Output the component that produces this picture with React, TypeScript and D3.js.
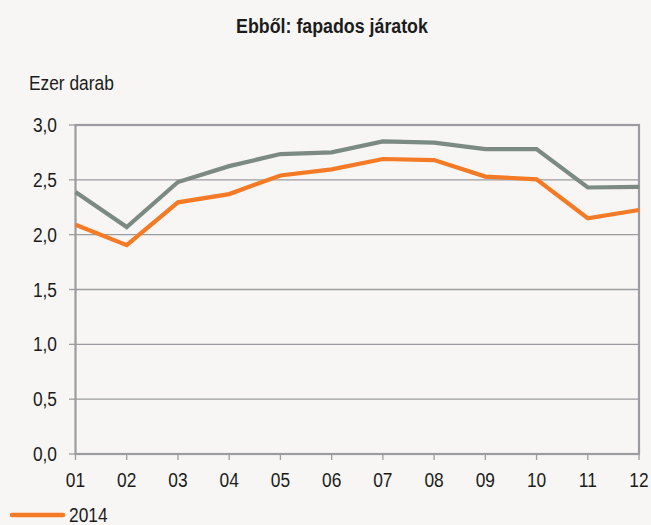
import React from 'react';
import * as d3 from 'd3';

const months = ['01', '02', '03', '04', '05', '06', '07', '08', '09', '10', '11', '12'];
const values2014 = [2.09, 1.905, 2.295, 2.37, 2.54, 2.595, 2.69, 2.68, 2.53, 2.505, 2.15, 2.225];
const values2015 = [2.39, 2.07, 2.48, 2.625, 2.735, 2.75, 2.85, 2.84, 2.78, 2.78, 2.43, 2.435];
const yTicks = [0, 0.5, 1, 1.5, 2, 2.5, 3];

const W = 651;
const H = 525;
const font = '"Liberation Sans", Arial, sans-serif';
const ink = '#1c1c1c';
const gridCol = '#9c9ca0';

// narrow text: Liberation Sans squeezed horizontally
function T(props: { x: number; y: number; anchor?: string; size?: number; bold?: boolean; children: any }) {
  const { x, y, anchor = 'start', size = 19.5, bold = false, children } = props;
  return (
    <text transform={`translate(${x},${y}) scale(0.89,1)`} textAnchor={anchor}
      fontSize={size} fontWeight={bold ? 'bold' : 'normal'} fill={ink}>
      {children}
    </text>
  );
}

function App() {
  const x = d3.scalePoint<string>().domain(months).range([75.5, 639]);
  const y = d3.scaleLinear().domain([0, 3]).range([454, 125]);
  const line = d3.line<number>()
    .x((_, i) => x(months[i]) as number)
    .y(d => y(d));

  const fmt = (v: number) => v.toFixed(1).replace('.', ',');

  return (
    <svg width={W} height={H} style={{ position: 'absolute', left: 0, top: 0 }} fontFamily={font}>
      <rect width={W} height={H} fill="#f7f6f4" />
      <T x={332} y={33} anchor="middle" size={20} bold>Ebből: fapados járatok</T>
      <T x={29} y={90}>Ezer darab</T>

      {yTicks.map(t => (
        <g key={t}>
          <line x1={75} x2={639} y1={y(t)} y2={y(t)} stroke={gridCol} strokeWidth={1.3} />
          <line x1={69} x2={75} y1={y(t)} y2={y(t)} stroke={gridCol} strokeWidth={1.3} />
          <T x={57} y={y(t) + 7} anchor="end">{fmt(t)}</T>
        </g>
      ))}
      <rect x={75.5} y={125} width={563.5} height={329} fill="none" stroke={gridCol} strokeWidth={2.2} />

      {months.map(m => (
        <g key={m}>
          <line x1={x(m)} x2={x(m)} y1={454} y2={460} stroke={gridCol} strokeWidth={1.3} />
          <T x={x(m) as number} y={487} anchor="middle">{m}</T>
        </g>
      ))}

      <path d={line(values2015) || ''} fill="none" stroke="#7b8a82" strokeWidth={4.2} />
      <path d={line(values2014) || ''} fill="none" stroke="#f47a25" strokeWidth={4.2} />

      <line x1={12} x2={63} y1={515} y2={515} stroke="#f47a25" strokeWidth={4.5} strokeLinecap="round" />
      <T x={69} y={522}>2014</T>
    </svg>
  );
}

export default App;
